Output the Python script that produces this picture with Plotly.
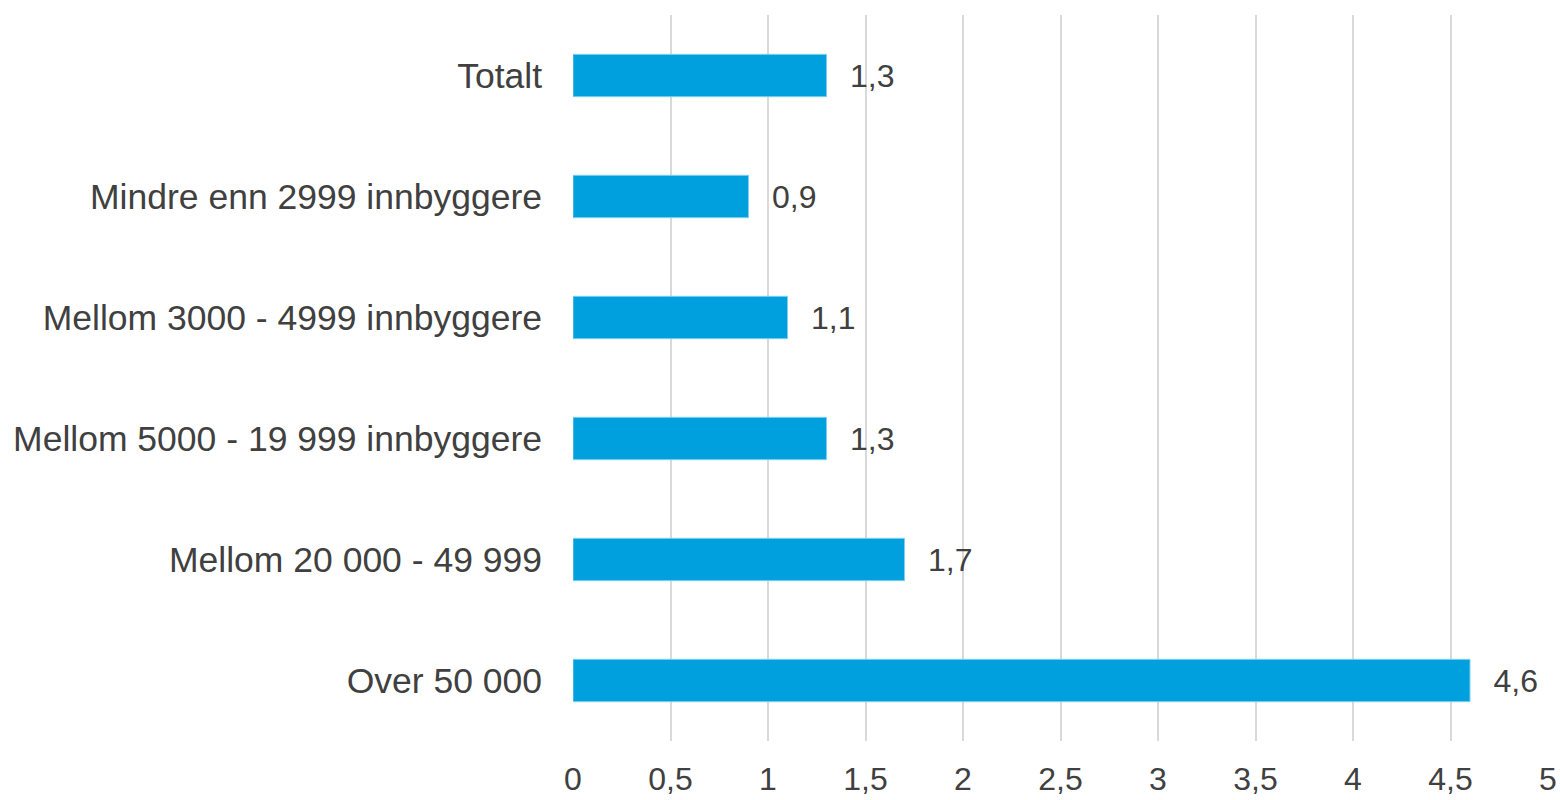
import plotly.graph_objects as go

# Data (top to bottom as shown in the chart)
categories = [
    "Totalt",
    "Mindre enn 2999 innbyggere",
    "Mellom 3000 - 4999 innbyggere",
    "Mellom 5000 - 19 999 innbyggere",
    "Mellom 20 000 - 49 999",
    "Over 50 000",
]
values = [1.3, 0.9, 1.1, 1.3, 1.7, 4.6]
x_ticks = [0, 0.5, 1, 1.5, 2, 2.5, 3, 3.5, 4, 4.5, 5]

fig = go.Figure()

fig.add_trace(go.Bar(
    y=categories, x=values,
    orientation="h",
    marker=dict(color="#00A0DF", line=dict(color="#7FCFEF", width=1)),
    text=values,
    texttemplate="\u00a0\u00a0\u200a%{x}",
    textposition="outside",
    textfont=dict(size=32, color="#404040"),
    cliponaxis=False,
))

fig.update_layout(
    width=1560, height=800,
    margin=dict(l=573, r=12, t=15, b=59),
    paper_bgcolor="white", plot_bgcolor="white",
    font=dict(family="Liberation Sans, Arial", color="#404040", size=32),
    separators=", ",
    bargap=0.65,
    showlegend=False,
)

fig.update_xaxes(
    range=[0, 5], tickvals=x_ticks,
    showgrid=True, gridcolor="#D9D9D9", gridwidth=1.5,
    zeroline=False, showline=False,
    tickfont=dict(size=32, color="#404040"),
    ticklabelstandoff=16,
    automargin=False,
)

fig.update_yaxes(
    categoryorder="array", categoryarray=categories, autorange="reversed",
    showgrid=False, zeroline=False, showline=False,
    tickfont=dict(size=35.5, color="#404040"),
    ticklabelstandoff=30,
    automargin=False,
)

# drop the default 8px body margin so the figure fills the window exactly
fig.write_html(
    "out.html",
    config={"displayModeBar": False},
    post_script="document.body.style.margin='0';document.body.style.overflow='hidden';",
)
